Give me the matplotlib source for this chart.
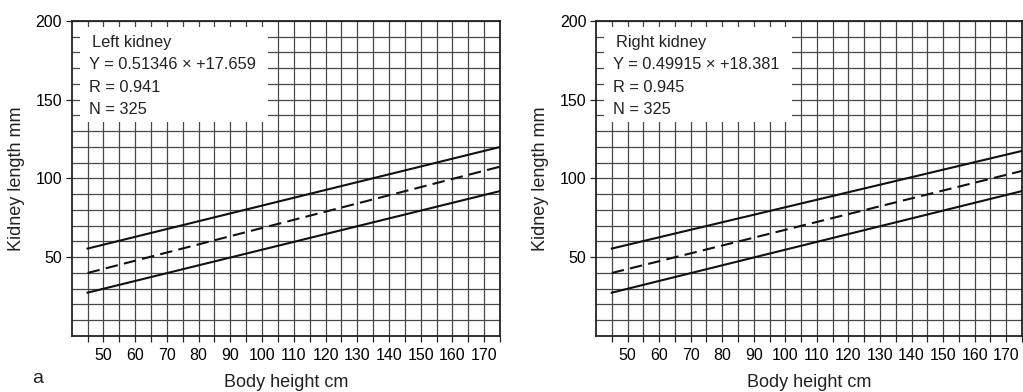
import matplotlib
matplotlib.use("Agg")
import matplotlib.pyplot as plt
from matplotlib.patches import Rectangle
import numpy as np

plt.rcParams['font.family'] = ['Liberation Sans', 'DejaVu Sans']

# line end points (body height cm -> kidney length mm)
heights = [45, 175]
left_upper = [55.5, 120.0]
left_mean = [40.0, 107.5]
left_lower = [27.5, 92.0]
right_upper = [55.5, 117.5]
right_mean = [40.0, 104.8]
right_lower = [27.5, 92.0]

x_ticks = [50, 60, 70, 80, 90, 100, 110, 120, 130, 140, 150, 160, 170]
y_ticks = [50, 100, 150, 200]

left_text = ["Left kidney", "Y = 0.51346 \u00d7 +17.659", "R = 0.941", "N = 325"]
right_text = ["Right kidney", "Y = 0.49915 \u00d7 +18.381", "R = 0.945", "N = 325"]


def panel(ax, upper, mean, lower, lines):
    ax.set_xlim(40, 175)
    ax.set_ylim(0, 200)
    ax.set_xticks(x_ticks)
    ax.set_xticks(np.arange(45, 176, 5), minor=True)
    ax.set_yticks(y_ticks)
    ax.set_yticks(np.arange(10, 200, 10), minor=True)
    ax.grid(which='both', color='#484848', lw=0.9, zorder=0)
    ax.set_axisbelow(True)
    ax.tick_params(axis='x', which='both', direction='out', length=4,
                   width=0.9, color='#222', labelsize=11.5, pad=5)
    ax.tick_params(axis='y', which='major', direction='out', length=4,
                   width=0.9, color='#222', labelsize=11.5, pad=3)
    ax.tick_params(axis='y', which='minor', length=0)
    for s in ax.spines.values():
        s.set_linewidth(1.3)
        s.set_color('#222')

    # white label box hides the grid behind the text
    ax.add_patch(Rectangle((42.5, 135.9), 59.5, 60.3, facecolor='white',
                           edgecolor='none', zorder=1))

    ax.plot(heights, upper, color='#111', lw=1.5, zorder=3)
    ax.plot(heights, mean, color='#111', lw=1.5, ls=(0, (6, 3)), zorder=3)
    ax.plot(heights, lower, color='#111', lw=1.5, zorder=3)

    ys = [183.6, 169.4, 155.2, 141.0]
    xs = [46.3, 45.4, 45.4, 45.4]
    for t, xx, yy in zip(lines, xs, ys):
        ax.text(xx, yy, t, fontsize=11.8, color='#222', zorder=4)

    ax.set_xlabel("Body height cm", fontsize=13, color='#222')
    ax.set_ylabel("Kidney length mm", fontsize=13, color='#222')
    ax.xaxis.set_label_coords(0.5, -0.12)
    ax.yaxis.set_label_coords(-0.11, 0.5)


def main():
    fig = plt.figure(figsize=(10.23, 3.92), dpi=100)
    ax1 = fig.add_axes([0.0701, 0.1429, 0.4187, 0.8036])
    ax2 = fig.add_axes([0.5826, 0.1429, 0.4164, 0.8036])
    panel(ax1, left_upper, left_mean, left_lower, left_text)
    panel(ax2, right_upper, right_mean, right_lower, right_text)
    fig.text(0.031, 0.023, "a", fontsize=14, color='#222')
    fig.savefig("out.png", dpi=100)


if __name__ == "__main__":
    main()
